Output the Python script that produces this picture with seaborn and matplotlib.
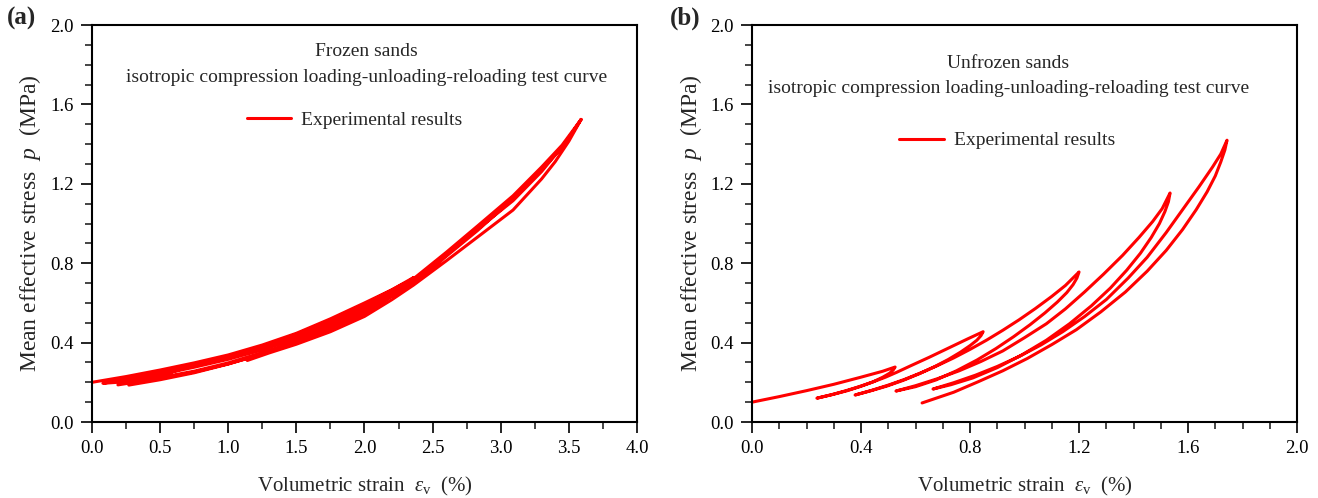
import numpy as np
import pandas as pd
import matplotlib
matplotlib.use('Agg')
import matplotlib.pyplot as plt
from matplotlib.ticker import MultipleLocator, FormatStrFormatter
import seaborn as sns

# ---- (a) frozen sands: loading / unloading / reloading branches ----
a_load_1_x = [0.00, 0.25, 0.50, 0.75, 1.00, 1.25, 1.50, 1.75, 2.00, 2.20, 2.36]
a_load_1_p = [0.200, 0.229, 0.262, 0.298, 0.338, 0.388, 0.447, 0.520, 0.600, 0.666, 0.728]
a_unload_1_x = [2.36, 2.30, 2.20, 2.00, 1.75, 1.50, 1.25, 1.00, 0.75, 0.50, 0.25, 0.08]
a_unload_1_p = [0.728, 0.695, 0.645, 0.565, 0.480, 0.410, 0.350, 0.298, 0.256, 0.224, 0.203, 0.195]
a_reload_1_x = [0.08, 0.25, 0.50, 0.75, 1.00, 1.25, 1.50, 1.75, 2.00, 2.20, 2.36, 2.60, 2.83, 3.09]
a_reload_1_p = [0.195, 0.215, 0.247, 0.282, 0.320, 0.368, 0.425, 0.493, 0.570, 0.635, 0.695, 0.835, 0.965, 1.125]
a_unload_2_x = [3.09, 3.00, 2.83, 2.60, 2.36, 2.20, 2.00, 1.75, 1.50, 1.25, 1.00, 0.75, 0.50, 0.19]
a_unload_2_p = [1.125, 1.072, 0.975, 0.848, 0.715, 0.635, 0.550, 0.465, 0.398, 0.342, 0.293, 0.252, 0.220, 0.187]
a_reload_2_x = [0.19, 0.50, 0.75, 1.00, 1.25, 1.50, 1.75, 2.00, 2.20, 2.36, 2.60, 2.83, 3.09, 3.30, 3.45, 3.59]
a_reload_2_p = [0.187, 0.240, 0.276, 0.316, 0.366, 0.428, 0.500, 0.580, 0.648, 0.706, 0.840, 0.975, 1.130, 1.272, 1.382, 1.525]
a_unload_3_x = [3.59, 3.50, 3.30, 3.09, 2.83, 2.60, 2.36, 2.00, 1.75, 1.50, 1.25, 1.00, 0.75, 0.50, 0.27]
a_unload_3_p = [1.525, 1.430, 1.262, 1.115, 0.972, 0.843, 0.710, 0.545, 0.465, 0.400, 0.343, 0.292, 0.248, 0.213, 0.186]
a_reload_3_x = [0.27, 0.50, 0.75, 1.00, 1.25, 1.50, 1.75, 2.00, 2.36, 2.60, 2.83, 3.09, 3.30, 3.45, 3.59]
a_reload_3_p = [0.186, 0.235, 0.285, 0.330, 0.382, 0.442, 0.514, 0.594, 0.722, 0.855, 0.988, 1.140, 1.285, 1.395, 1.525]
a_unload_4_x = [3.59, 3.50, 3.40, 3.30, 3.09, 2.83, 2.60, 2.36, 2.20, 2.00, 1.75, 1.50, 1.30, 1.14]
a_unload_4_p = [1.525, 1.415, 1.312, 1.225, 1.068, 0.932, 0.812, 0.690, 0.616, 0.532, 0.455, 0.392, 0.348, 0.310]

# ---- (b) unfrozen sands ----
b_load_x = [0.00, 0.10, 0.20, 0.30, 0.40, 0.48, 0.525]
b_load_p = [0.100, 0.128, 0.158, 0.190, 0.226, 0.256, 0.277]
b_unload_1_x = [0.525, 0.518, 0.505, 0.48, 0.445, 0.40, 0.35, 0.30, 0.238]
b_unload_1_p = [0.277, 0.262, 0.246, 0.226, 0.203, 0.180, 0.158, 0.140, 0.120]
b_reload_1_x = [0.238, 0.29, 0.34, 0.39, 0.44, 0.49, 0.53, 0.58, 0.65, 0.72, 0.79, 0.848]
b_reload_1_p = [0.120, 0.137, 0.156, 0.177, 0.200, 0.226, 0.250, 0.282, 0.326, 0.372, 0.418, 0.455]
b_unload_2_x = [0.848, 0.840, 0.825, 0.80, 0.765, 0.72, 0.67, 0.615, 0.555, 0.495, 0.435, 0.378]
b_unload_2_p = [0.455, 0.435, 0.412, 0.385, 0.352, 0.315, 0.279, 0.244, 0.210, 0.181, 0.157, 0.136]
b_reload_2_x = [0.378, 0.44, 0.50, 0.56, 0.62, 0.68, 0.74, 0.80, 0.86, 0.92, 0.98, 1.04, 1.10, 1.15, 1.20]
b_reload_2_p = [0.136, 0.160, 0.186, 0.215, 0.248, 0.284, 0.323, 0.366, 0.412, 0.462, 0.515, 0.572, 0.633, 0.688, 0.756]
b_unload_3_x = [1.200, 1.192, 1.178, 1.155, 1.12, 1.075, 1.02, 0.96, 0.895, 0.825, 0.75, 0.675, 0.60, 0.528]
b_unload_3_p = [0.756, 0.725, 0.692, 0.652, 0.604, 0.550, 0.490, 0.430, 0.370, 0.312, 0.258, 0.212, 0.178, 0.156]
b_reload_3_x = [0.528, 0.60, 0.68, 0.76, 0.84, 0.92, 1.00, 1.08, 1.15, 1.22, 1.29, 1.36, 1.42, 1.47, 1.505, 1.534]
b_reload_3_p = [0.156, 0.183, 0.218, 0.258, 0.305, 0.358, 0.425, 0.495, 0.570, 0.655, 0.745, 0.840, 0.930, 1.010, 1.075, 1.154]
b_unload_4_x = [1.534, 1.528, 1.515, 1.495, 1.465, 1.425, 1.375, 1.315, 1.245, 1.165, 1.08, 0.99, 0.90, 0.81, 0.73, 0.664]
b_unload_4_p = [1.154, 1.110, 1.060, 1.000, 0.930, 0.850, 0.765, 0.675, 0.585, 0.495, 0.412, 0.338, 0.274, 0.222, 0.188, 0.166]
b_reload_4_x = [0.664, 0.74, 0.82, 0.90, 0.98, 1.06, 1.14, 1.22, 1.30, 1.38, 1.45, 1.52, 1.58, 1.64, 1.69, 1.72, 1.743]
b_reload_4_p = [0.166, 0.198, 0.236, 0.280, 0.330, 0.388, 0.455, 0.531, 0.617, 0.725, 0.830, 0.955, 1.070, 1.185, 1.285, 1.350, 1.420]
b_unload_5_x = [1.743, 1.735, 1.72, 1.70, 1.67, 1.63, 1.58, 1.52, 1.45, 1.37, 1.28, 1.19, 1.10, 1.01, 0.92, 0.83, 0.74, 0.624]
b_unload_5_p = [1.420, 1.370, 1.310, 1.240, 1.160, 1.070, 0.970, 0.865, 0.760, 0.655, 0.555, 0.465, 0.390, 0.320, 0.258, 0.203, 0.150, 0.096]

titles = ['Frozen sands', 'Unfrozen sands']
subtitle = 'isotropic compression loading-unloading-reloading test curve'
legend_label = 'Experimental results'


def path(*branches):
    xs, ps = [], []
    for bx, bp in branches:
        xs += list(bx)
        ps += list(bp)
    return pd.DataFrame({'strain': xs, 'p': ps})


frozen = path((a_load_1_x, a_load_1_p), (a_unload_1_x, a_unload_1_p),
              (a_reload_1_x, a_reload_1_p), (a_unload_2_x, a_unload_2_p),
              (a_reload_2_x, a_reload_2_p), (a_unload_3_x, a_unload_3_p),
              (a_reload_3_x, a_reload_3_p), (a_unload_4_x, a_unload_4_p))
unfrozen = path((b_load_x, b_load_p), (b_unload_1_x, b_unload_1_p),
                (b_reload_1_x, b_reload_1_p), (b_unload_2_x, b_unload_2_p),
                (b_reload_2_x, b_reload_2_p), (b_unload_3_x, b_unload_3_p),
                (b_reload_3_x, b_reload_3_p), (b_unload_4_x, b_unload_4_p),
                (b_reload_4_x, b_reload_4_p), (b_unload_5_x, b_unload_5_p))

sns.set_style('ticks')
plt.rcParams['font.family'] = ['Liberation Serif', 'DejaVu Serif']
plt.rcParams['mathtext.fontset'] = 'custom'
plt.rcParams['mathtext.rm'] = 'Liberation Serif'
plt.rcParams['mathtext.it'] = 'Liberation Serif:italic'

fig = plt.figure(figsize=(13.18, 4.98), dpi=100)
ax_a = fig.add_axes([0.0698, 0.1526, 0.4135, 0.797])
ax_b = fig.add_axes([0.5706, 0.1526, 0.4135, 0.797])

setups = [
    (ax_a, frozen, titles[0], 4.0, 0.5, 0.25, 0.503, (0.933, 0.869), (0.284, 0.761), '(a)', 0.005),
    (ax_b, unfrozen, titles[1], 2.0, 0.4, 0.1, 0.470, (0.903, 0.841), (0.270, 0.709), '(b)', 0.508),
]

for ax, df, title, xmax, xmaj, xmin, tx, (ty1, ty2), (lx, ly), tag, tagx in setups:
    sns.lineplot(data=df, x='strain', y='p', sort=False, estimator=None,
                 color='#ff0000', lw=2.2, label=legend_label, ax=ax)
    ax.set_xlim(0, xmax)
    ax.set_ylim(0, 2.0)
    ax.xaxis.set_major_locator(MultipleLocator(xmaj))
    ax.xaxis.set_minor_locator(MultipleLocator(xmin))
    ax.yaxis.set_major_locator(MultipleLocator(0.4))
    ax.yaxis.set_minor_locator(MultipleLocator(0.1))
    ax.xaxis.set_major_formatter(FormatStrFormatter('%.1f'))
    ax.yaxis.set_major_formatter(FormatStrFormatter('%.1f'))
    ax.tick_params(which='major', direction='out', length=8, width=1.2,
                   labelsize=13.5, pad=5, colors='black')
    ax.tick_params(which='minor', direction='out', length=5, width=1.2)
    for s in ax.spines.values():
        s.set_linewidth(1.5)
        s.set_color('black')
    ax.set_xlabel(r'Volumetric strain  $\varepsilon_{\rm v}$  (%)', fontsize=15, labelpad=13)
    ax.set_ylabel(r'Mean effective stress  $p$  (MPa)', fontsize=17, labelpad=5)
    ax.text(tx, ty1, title, transform=ax.transAxes, ha='center', va='center', fontsize=14)
    ax.text(tx, ty2, subtitle, transform=ax.transAxes, ha='center', va='center', fontsize=14)
    ax.legend(loc='center left', bbox_to_anchor=(lx, ly), frameon=False, fontsize=14,
              handlelength=2.3, handletextpad=0.5, borderpad=0, borderaxespad=0)
    fig.text(tagx, 0.963, tag, fontsize=18, fontweight='bold', ha='left', va='center')

fig.savefig('out.png', dpi=100)
